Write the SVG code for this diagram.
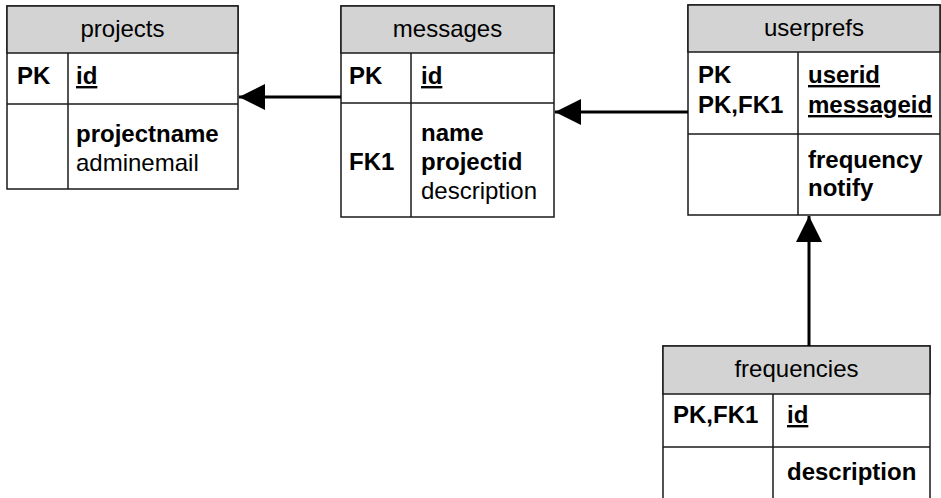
<svg xmlns="http://www.w3.org/2000/svg" width="941" height="498" viewBox="0 0 941 498">
<defs>
<style>
.box{fill:#fff;stroke:#1a1a1a;stroke-width:1.5}
.hdr{fill:#d3d3d3;stroke:#1a1a1a;stroke-width:1.5}
.ln{stroke:#1a1a1a;stroke-width:1.5;fill:none}
text{font-family:"Liberation Sans",Arial,sans-serif;font-size:24px;fill:#000}
.t{text-anchor:middle}
.b{font-weight:bold}
.u{font-weight:bold;text-decoration:underline}
.conn{stroke:#000;stroke-width:3;fill:none}
</style>
<marker id="arr" markerUnits="userSpaceOnUse" markerWidth="26" markerHeight="26" viewBox="0 0 24 24" refX="24" refY="12" orient="auto">
<path d="M0,0 L24,12 L0,24 Z" fill="#000"/>
</marker>
</defs>
<g id="projects">
<rect class="box" x="7" y="6" width="231" height="183"/>
<rect class="hdr" x="7" y="6" width="231" height="47"/>
<line class="ln" x1="7" y1="104" x2="238" y2="104"/>
<line class="ln" x1="68" y1="53" x2="68" y2="189"/>
<text class="t" x="122.5" y="37">projects</text>
<text class="b" x="17" y="84">PK</text>
<text class="u" x="76" y="84">id</text>
<text class="b" x="76" y="142">projectname</text>
<text x="76" y="171">adminemail</text>
</g>
<g id="messages">
<rect class="box" x="341" y="6" width="213" height="211"/>
<rect class="hdr" x="341" y="6" width="213" height="47"/>
<line class="ln" x1="341" y1="103" x2="554" y2="103"/>
<line class="ln" x1="411" y1="53" x2="411" y2="217"/>
<text class="t" x="447.5" y="37">messages</text>
<text class="b" x="349" y="84">PK</text>
<text class="u" x="421" y="84">id</text>
<text class="b" x="421" y="141">name</text>
<text class="b" x="349" y="170">FK1</text>
<text class="b" x="421" y="170">projectid</text>
<text x="421" y="199">description</text>
</g>
<g id="userprefs">
<rect class="box" x="688" y="5" width="252" height="210"/>
<rect class="hdr" x="688" y="5" width="252" height="47"/>
<line class="ln" x1="688" y1="134" x2="940" y2="134"/>
<line class="ln" x1="798" y1="52" x2="798" y2="215"/>
<text class="t" x="814" y="36">userprefs</text>
<text class="b" x="698" y="83">PK</text>
<text class="b" x="698" y="113">PK,FK1</text>
<text class="u" x="808" y="83">userid</text>
<text class="u" x="808" y="113">messageid</text>
<text class="b" x="808" y="168">frequency</text>
<text class="b" x="808" y="196">notify</text>
</g>
<g id="frequencies">
<rect class="box" x="663" y="346" width="267" height="160"/>
<rect class="hdr" x="663" y="346" width="267" height="48"/>
<line class="ln" x1="663" y1="447" x2="930" y2="447"/>
<line class="ln" x1="773" y1="394" x2="773" y2="498"/>
<text class="t" x="796.5" y="377">frequencies</text>
<text class="b" x="673" y="423">PK,FK1</text>
<text class="u" x="787" y="423">id</text>
<text class="b" x="787" y="480">description</text>
</g>
<g id="connectors">
<line class="conn" x1="341" y1="97" x2="239" y2="97" marker-end="url(#arr)"/>
<line class="conn" x1="688" y1="112" x2="555" y2="112" marker-end="url(#arr)"/>
<line class="conn" x1="809" y1="346" x2="809" y2="216" marker-end="url(#arr)"/>
</g>
</svg>
